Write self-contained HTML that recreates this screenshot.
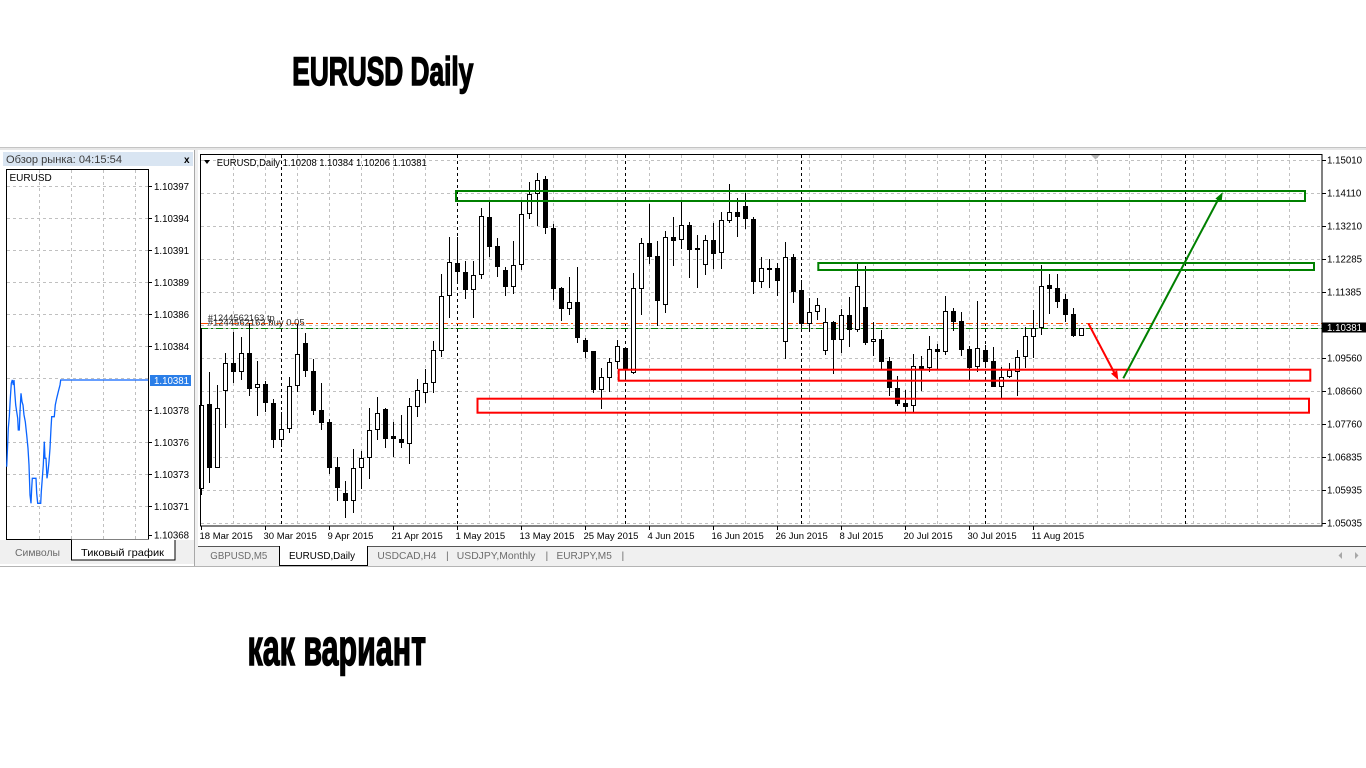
<!DOCTYPE html>
<html>
<head>
<meta charset="utf-8">
<style>
html,body{margin:0;padding:0;background:#fff;}
body{width:1366px;height:768px;overflow:hidden;}
svg{display:block;}
text{font-family:"Liberation Sans",sans-serif;}
</style>
</head>
<body>
<svg width="1366" height="768" viewBox="0 0 1366 768" xmlns="http://www.w3.org/2000/svg">
<rect x="0" y="0" width="1366" height="768" fill="#fff"/>

<!-- Titles -->
<text x="292.3" y="85" font-size="40" font-weight="bold" fill="#000" stroke="#000" stroke-width="1.5" textLength="181" lengthAdjust="spacingAndGlyphs">EURUSD Daily</text>
<text x="247.5" y="665" font-size="51" font-weight="bold" fill="#000" stroke="#000" stroke-width="1.5" textLength="178.5" lengthAdjust="spacingAndGlyphs">как вариант</text>

<!-- window top band -->
<rect x="0" y="147" width="1366" height="3" fill="#e6e6e6"/>
<line x1="0" y1="147.5" x2="1366" y2="147.5" stroke="#c4c4c4"/>

<!-- ===== LEFT PANEL ===== -->
<rect x="0" y="150" width="195" height="417" fill="#fff"/>
<rect x="3" y="152" width="190" height="14" fill="#d9e5f2"/>
<text x="6" y="163" font-size="11" fill="#3c3c3c" textLength="116" lengthAdjust="spacingAndGlyphs">Обзор рынка: 04:15:54</text>
<text x="184" y="163" font-size="10" font-weight="bold" fill="#000">x</text>

<rect x="6.5" y="169.5" width="142" height="370" fill="#fff" stroke="#000"/>
<path d="M7 186.5H148M7 218.5H148M7 250.5H148M7 282.5H148M7 314.5H148M7 346.5H148M7 378.5H148M7 410.5H148M7 442.5H148M7 474.5H148M7 506.5H148M39.5 170V539M71.5 170V539M103.5 170V539M135.5 170V539" stroke="#c0c0c0" stroke-dasharray="3,3" fill="none"/>
<text x="9.5" y="181" font-size="10" fill="#000">EURUSD</text>
<polyline fill="none" stroke="#0a64ff" stroke-width="1.3" points="6.7,466.7 7.3,453.3 8.3,428.3 9.3,416.7 10.3,398.3 11.3,383.3 12.3,380 13.3,385 14,380 14.7,391.7 15.7,405 16.7,411.7 17.7,418.3 18.3,430 19.3,430 20,411.7 21,393.3 22,401.7 23,405 24,415 25.3,421.7 26.7,435 28,448.3 29,465 30,495 31,503.3 31.7,488.3 32.3,478.3 36,478.3 36.7,493.3 37.7,503.3 40.7,503.3 41.3,491.7 42.3,478.3 43.3,465 44.3,441.7 45,458.3 46,458.3 47,478.3 48,471.7 49,461.7 50,448.3 51,428.3 51.7,416.7 54.3,416.7 55.3,405 56.7,398.3 58.3,391.7 60,385 60.7,380 148.3,380"/>
<path d="M149 186.5H152M149 218.5H152M149 250.5H152M149 282.5H152M149 314.5H152M149 346.5H152M149 410.5H152M149 442.5H152M149 474.5H152M149 506.5H152M149 535.5H152" stroke="#000"/>
<g font-size="9.7" fill="#000">
<text x="154" y="190">1.10397</text>
<text x="154" y="222">1.10394</text>
<text x="154" y="254">1.10391</text>
<text x="154" y="286">1.10389</text>
<text x="154" y="318">1.10386</text>
<text x="154" y="350">1.10384</text>
<text x="154" y="414">1.10378</text>
<text x="154" y="446">1.10376</text>
<text x="154" y="478">1.10373</text>
<text x="154" y="510">1.10371</text>
<text x="154" y="538.5">1.10368</text>
</g>
<rect x="150" y="375" width="41" height="11" fill="#2a7ee8"/>
<text x="154" y="384" font-size="9.7" fill="#fff">1.10381</text>

<rect x="0" y="540" width="194" height="24" fill="#f0f0f0"/>
<text x="15" y="556" font-size="10.5" fill="#6a6a6a" textLength="45" lengthAdjust="spacingAndGlyphs">Символы</text>
<rect x="71.5" y="539.5" width="103.5" height="20.5" fill="#fff"/>
<path d="M71.5 540V560H175V540" fill="none" stroke="#000"/>
<text x="81" y="556" font-size="10.5" fill="#000" textLength="83" lengthAdjust="spacingAndGlyphs">Тиковый график</text>
<line x1="194.5" y1="150" x2="194.5" y2="567" stroke="#a8a8a8"/>
<rect x="195" y="150" width="3" height="417" fill="#f0f0f0"/>

<!-- ===== CHART WINDOW ===== -->
<rect x="198" y="150" width="1168" height="396" fill="#fff"/>

<!-- grid -->
<path d="M201 160.5H1322M201 193.5H1322M201 226.5H1322M201 259.5H1322M201 292.5H1322M201 325.5H1322M201 358.5H1322M201 391.5H1322M201 424.5H1322M201 457.5H1322M201 490.5H1322M201 523.5H1322" stroke="#c0c0c0" stroke-dasharray="3,3" fill="none"/>
<path d="M233.5 155V526M265.5 155V526M297.5 155V526M329.5 155V526M361.5 155V526M393.5 155V526M425.5 155V526M457.5 155V526M489.5 155V526M521.5 155V526M553.5 155V526M585.5 155V526M617.5 155V526M649.5 155V526M681.5 155V526M713.5 155V526M745.5 155V526M777.5 155V526M809.5 155V526M841.5 155V526M873.5 155V526M905.5 155V526M937.5 155V526M969.5 155V526M1001.5 155V526M1033.5 155V526M1065.5 155V526M1097.5 155V526M1129.5 155V526M1161.5 155V526M1193.5 155V526M1225.5 155V526M1257.5 155V526M1289.5 155V526" stroke="#c0c0c0" stroke-dasharray="3,3" fill="none"/>
<!-- period separators -->
<path d="M281.5 155V526M457.5 155V526M625.5 155V526M801.5 155V526M985.5 155V526M1185.5 155V526" stroke="#000" stroke-dasharray="3,3" fill="none"/>

<!-- header -->
<polygon points="204,160 210,160 207,164" fill="#000"/>
<text x="216.7" y="166" font-size="10" fill="#000" textLength="210" lengthAdjust="spacingAndGlyphs">EURUSD,Daily  1.10208 1.10384 1.10206 1.10381</text>
<polygon points="1091,155 1100,155 1095.5,159.5" fill="#b4b4b4"/>

<!-- order lines -->
<line x1="201" y1="328.5" x2="1322" y2="328.5" stroke="#c0c0c0"/>
<line x1="201" y1="323.5" x2="1322" y2="323.5" stroke="#ff5000" stroke-dasharray="7,3,2,3"/>
<line x1="201" y1="328.5" x2="1322" y2="328.5" stroke="#008000" stroke-dasharray="7,3,2,3"/>
<text x="207.7" y="321" font-size="9.5" fill="#303030" textLength="67" lengthAdjust="spacingAndGlyphs">#1244562163 tp</text>
<text x="207.7" y="325.5" font-size="9.5" fill="#303030" textLength="97" lengthAdjust="spacingAndGlyphs">#1244562163 buy 0.05</text>

<!-- candles: wicks -->
<path fill="none" stroke="#000" stroke-width="1" d="M201.5 328V495M209.5 372V483M217.5 385V468M225.5 353V428M233.5 332V383M241.5 337V380M249.5 323V396M257.5 361V416M265.5 381V412M273.5 399V448M281.5 412V447M289.5 377V433M297.5 324V392M305.5 333V377M313.5 359V415M321.5 383V430M329.5 419V474M337.5 457V501M345.5 481V518M353.5 449V513M361.5 451V489M369.5 408V479M377.5 397V440M385.5 408V448M393.5 422V457M401.5 415V448M409.5 398V464M417.5 379V417M425.5 369V403M433.5 341V393M441.5 274V357M449.5 237V318M457.5 237V282M465.5 261V299M473.5 261V318M481.5 208V279M489.5 202V257M497.5 238V277M505.5 267V296M513.5 241V294M521.5 202V270M529.5 182V219M537.5 173V226M545.5 176V234M553.5 224V300M561.5 287V321M569.5 277V315M577.5 267V343M585.5 338V358M593.5 351V393M601.5 368V409M609.5 358V392M617.5 340V369M625.5 348V378M633.5 273V374M641.5 238V315M649.5 204V264M657.5 241V326M665.5 231V313M673.5 217V266M681.5 202V249M689.5 222V278M697.5 235V288M705.5 235V275M713.5 223V269M721.5 212V269M729.5 184V223M737.5 198V237M745.5 193V229M753.5 217V294M761.5 257V288M769.5 259V288M777.5 263V296M785.5 242V359M793.5 254V303M801.5 280V328M809.5 298V332M817.5 298V320M825.5 308V355M833.5 321V374M841.5 309V353M849.5 297V347M857.5 263V332M865.5 266V345M873.5 322V356M881.5 330V369M889.5 357V396M897.5 376V406M905.5 390V412M913.5 354V412M921.5 356V391M929.5 336V372M937.5 344V369M945.5 296V355M953.5 308V331M961.5 312V356M969.5 346V380M977.5 301V372M985.5 345V365M993.5 347V387M1001.5 367V398M1009.5 363V378M1017.5 350V396M1025.5 327V368M1033.5 310V358M1041.5 265V335M1049.5 274V314M1057.5 274V308M1065.5 294V322M1073.5 308V337"/>

<!-- black bodies -->
<path fill="#000" d="M207 404h5v64h-5zM231 363h5v9h-5zM247 353h5v36h-5zM263 384h5v19h-5zM271 403h5v37h-5zM303 343h5v28h-5zM311 371h5v40h-5zM319 410h5v13h-5zM327 422h5v46h-5zM335 467h5v21h-5zM343 493h5v8h-5zM383 409h5v30h-5zM391 436h5v3h-5zM399 439h5v4h-5zM455 263h5v9h-5zM463 272h5v18h-5zM487 217h5v30h-5zM495 246h5v21h-5zM503 270h5v17h-5zM543 179h5v49h-5zM551 228h5v61h-5zM559 288h5v21h-5zM575 302h5v36h-5zM583 340h5v12h-5zM591 351h5v39h-5zM623 348h5v21h-5zM647 243h5v14h-5zM655 256h5v45h-5zM671 237h5v4h-5zM687 225h5v25h-5zM695 248h5v2h-5zM711 240h5v14h-5zM735 212h5v5h-5zM743 206h5v13h-5zM751 219h5v63h-5zM767 268h5v2h-5zM775 268h5v13h-5zM791 257h5v35h-5zM799 290h5v34h-5zM831 322h5v18h-5zM847 315h5v15h-5zM863 307h5v36h-5zM879 339h5v23h-5zM887 361h5v27h-5zM895 388h5v16h-5zM903 403h5v4h-5zM919 366h5v3h-5zM935 349h5v3h-5zM951 311h5v11h-5zM959 321h5v29h-5zM967 349h5v19h-5zM983 350h5v12h-5zM991 361h5v26h-5zM1047 285h5v4h-5zM1055 288h5v14h-5zM1063 299h5v16h-5zM1071 314h5v22h-5z"/>

<!-- white bodies -->
<g fill="#fff" stroke="#000" stroke-width="1">
<rect x="199.5" y="405.5" width="4" height="83"/>
<rect x="215.5" y="408.5" width="4" height="59"/>
<rect x="223.5" y="363.5" width="4" height="27"/>
<rect x="239.5" y="353.5" width="4" height="18"/>
<rect x="255.5" y="384.5" width="4" height="3"/>
<rect x="279.5" y="429.5" width="4" height="10"/>
<rect x="287.5" y="386.5" width="4" height="42"/>
<rect x="295.5" y="354.5" width="4" height="31"/>
<rect x="351.5" y="468.5" width="4" height="32"/>
<rect x="359.5" y="458.5" width="4" height="9"/>
<rect x="367.5" y="430.5" width="4" height="27"/>
<rect x="375.5" y="413.5" width="4" height="16"/>
<rect x="407.5" y="406.5" width="4" height="37"/>
<rect x="415.5" y="390.5" width="4" height="16"/>
<rect x="423.5" y="383.5" width="4" height="9"/>
<rect x="431.5" y="350.5" width="4" height="32"/>
<rect x="439.5" y="296.5" width="4" height="54"/>
<rect x="447.5" y="262.5" width="4" height="33"/>
<rect x="471.5" y="275.5" width="4" height="14"/>
<rect x="479.5" y="216.5" width="4" height="58"/>
<rect x="511.5" y="265.5" width="4" height="21"/>
<rect x="519.5" y="214.5" width="4" height="50"/>
<rect x="527.5" y="194.5" width="4" height="19"/>
<rect x="535.5" y="180.5" width="4" height="13"/>
<rect x="567.5" y="302.5" width="4" height="6"/>
<rect x="599.5" y="377.5" width="4" height="12"/>
<rect x="607.5" y="362.5" width="4" height="15"/>
<rect x="615.5" y="346.5" width="4" height="15"/>
<rect x="631.5" y="288.5" width="4" height="84"/>
<rect x="639.5" y="243.5" width="4" height="45"/>
<rect x="663.5" y="237.5" width="4" height="67"/>
<rect x="679.5" y="225.5" width="4" height="14"/>
<rect x="703.5" y="240.5" width="4" height="24"/>
<rect x="719.5" y="220.5" width="4" height="32"/>
<rect x="727.5" y="212.5" width="4" height="8"/>
<rect x="759.5" y="268.5" width="4" height="13"/>
<rect x="783.5" y="257.5" width="4" height="84"/>
<rect x="807.5" y="312.5" width="4" height="11"/>
<rect x="815.5" y="305.5" width="4" height="6"/>
<rect x="823.5" y="322.5" width="4" height="28"/>
<rect x="839.5" y="315.5" width="4" height="24"/>
<rect x="855.5" y="286.5" width="4" height="43"/>
<rect x="871.5" y="339.5" width="4" height="2"/>
<rect x="911.5" y="366.5" width="4" height="39"/>
<rect x="927.5" y="349.5" width="4" height="18"/>
<rect x="943.5" y="311.5" width="4" height="40"/>
<rect x="975.5" y="348.5" width="4" height="18"/>
<rect x="999.5" y="377.5" width="4" height="9"/>
<rect x="1007.5" y="370.5" width="4" height="6"/>
<rect x="1015.5" y="357.5" width="4" height="14"/>
<rect x="1023.5" y="336.5" width="4" height="20"/>
<rect x="1031.5" y="328.5" width="4" height="8"/>
<rect x="1039.5" y="286.5" width="4" height="41"/>
<rect x="1079.5" y="328.5" width="4" height="7"/>
</g>

<!-- drawn objects -->
<g fill="none" stroke-width="2">
<rect x="456" y="191" width="849" height="10" stroke="#008000"/>
<rect x="818.3" y="263" width="495.7" height="7" stroke="#008000"/>
<rect x="618.7" y="369.7" width="691.6" height="11" stroke="#ff0000"/>
<rect x="477.5" y="398.7" width="831.5" height="14" stroke="#ff0000"/>
<line x1="1123.3" y1="378.3" x2="1219" y2="198" stroke="#008000"/>
<line x1="1088.3" y1="323.3" x2="1115" y2="374" stroke="#ff0000"/>
</g>
<polygon points="1222.7,192.3 1221.6,201.9 1215.4,198.6" fill="#008000"/>
<polygon points="1118.3,380 1117.2,370.4 1111,373.6" fill="#ff0000"/>

<!-- frame -->
<rect x="200.5" y="154.5" width="1121.5" height="371.5" fill="none" stroke="#000"/>

<!-- right axis -->
<path d="M1322 160.5H1326M1322 193.5H1326M1322 226.5H1326M1322 259.5H1326M1322 292.5H1326M1322 358.5H1326M1322 391.5H1326M1322 424.5H1326M1322 457.5H1326M1322 490.5H1326M1322 523.5H1326" stroke="#000"/>
<g font-size="9.7" fill="#000">
<text x="1327" y="163.5">1.15010</text>
<text x="1327" y="196.5">1.14110</text>
<text x="1327" y="229.5">1.13210</text>
<text x="1327" y="262.5">1.12285</text>
<text x="1327" y="295.5">1.11385</text>
<text x="1327" y="361.5">1.09560</text>
<text x="1327" y="394.5">1.08660</text>
<text x="1327" y="427.5">1.07760</text>
<text x="1327" y="460.5">1.06835</text>
<text x="1327" y="493.5">1.05935</text>
<text x="1327" y="526.5">1.05035</text>
</g>
<rect x="1322" y="322.5" width="44" height="10" fill="#000"/>
<text x="1327" y="331" font-size="9.7" fill="#fff">1.10381</text>

<!-- date axis -->
<path d="M201.5 526V530M265.5 526V530M329.5 526V530M393.5 526V530M457.5 526V530M521.5 526V530M585.5 526V530M649.5 526V530M713.5 526V530M777.5 526V530M841.5 526V530M905.5 526V530M969.5 526V530M1033.5 526V530" stroke="#000"/>
<g font-size="9.5" fill="#000">
<text x="199.5" y="539">18 Mar 2015</text>
<text x="263.5" y="539">30 Mar 2015</text>
<text x="327.5" y="539">9 Apr 2015</text>
<text x="391.5" y="539">21 Apr 2015</text>
<text x="455.5" y="539">1 May 2015</text>
<text x="519.5" y="539">13 May 2015</text>
<text x="583.5" y="539">25 May 2015</text>
<text x="647.5" y="539">4 Jun 2015</text>
<text x="711.5" y="539">16 Jun 2015</text>
<text x="775.5" y="539">26 Jun 2015</text>
<text x="839.5" y="539">8 Jul 2015</text>
<text x="903.5" y="539">20 Jul 2015</text>
<text x="967.5" y="539">30 Jul 2015</text>
<text x="1031.5" y="539">11 Aug 2015</text>
</g>

<!-- tab strip -->
<rect x="198" y="547" width="1168" height="19" fill="#f0f0f0"/>
<line x1="198" y1="546.5" x2="1366" y2="546.5" stroke="#555"/>
<rect x="279.5" y="546" width="88" height="19.5" fill="#fff"/>
<path d="M279.5 546V565.5H367.5V546" fill="none" stroke="#000"/>
<g font-size="10.5" fill="#6d6d6d">
<text x="210.3" y="559" textLength="57" lengthAdjust="spacingAndGlyphs">GBPUSD,M5</text>
<text x="377.4" y="559" textLength="59" lengthAdjust="spacingAndGlyphs">USDCAD,H4</text>
<text x="446" y="559">|</text>
<text x="456.8" y="559" textLength="78.7" lengthAdjust="spacingAndGlyphs">USDJPY,Monthly</text>
<text x="545.5" y="559">|</text>
<text x="556.5" y="559" textLength="55.3" lengthAdjust="spacingAndGlyphs">EURJPY,M5</text>
<text x="621.5" y="559">|</text>
</g>
<text x="289" y="559" font-size="10.5" fill="#000" textLength="66" lengthAdjust="spacingAndGlyphs">EURUSD,Daily</text>
<polygon points="1342,552 1342,559 1338.5,555.5" fill="#a8a8a8"/>
<polygon points="1355,552 1355,559 1358.5,555.5" fill="#a8a8a8"/>

<line x1="0" y1="566.5" x2="1366" y2="566.5" stroke="#b4b4b4"/>
</svg>
</body>
</html>
